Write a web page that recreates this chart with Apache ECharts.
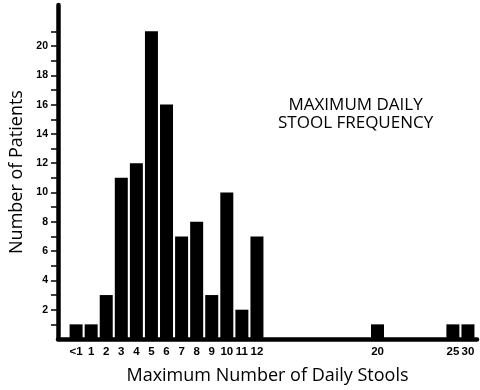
<!DOCTYPE html>
<html>
<head>
<meta charset="utf-8">
<script src="https://cdn.jsdelivr.net/npm/echarts@6/dist/echarts.min.js"></script>
<style>
html,body{margin:0;padding:0;background:#fff;}
#chart{width:480px;height:390px;}
</style>
</head>
<body>
<div id="chart"></div>
<script>
// Category slots along the x axis (blank slots are gaps on the axis)
const categories = ['<1','1','2','3','4','5','6','7','8','9','10','11','12',
  '','','','','','','','20','','','','','25','30'];
// Number of patients per category (null = no bar)
const patients = [1,1,3,11,12,21,16,7,8,3,10,2,7,
  null,null,null,null,null,null,null,1,null,null,null,null,1,1];
const yTicks = [1,2,3,4,5,6,7,8,9,10,11,12,13,14,15,16,17,18,19,20,21];
const yTickLabels = [2,4,6,8,10,12,14,16,18,20];
const xTitle = 'Maximum Number of Daily Stools';
const yTitle = 'Number of Patients';
const annotation = 'MAXIMUM DAILY\nSTOOL FREQUENCY';

const labelIdx = categories.map((c,i)=>c ? i : null).filter(i=>i!==null);
const seriesData = patients.map((v,i)=>[i,v]).filter(d=>d[1]!==null);

const chart = echarts.init(document.getElementById('chart'), null, {renderer:'canvas'});
chart.setOption({
  animation:false,
  backgroundColor:'#fff',
  grid:{left:58, right:3, top:5, bottom:51, containLabel:false, outerBoundsMode:'none'},
  xAxis:{
    type:'value', min:-1.2, max:26.6,
    axisLine:{show:true, onZero:false, lineStyle:{color:'#000', width:4.5}},
    axisTick:{show:false},
    splitLine:{show:false},
    axisLabel:{
      customValues:labelIdx,
      formatter:v=>categories[Math.round(v)] || '',
      color:'#000', fontFamily:'Liberation Sans', fontWeight:'bold', fontSize:11.5, margin:7
    },
    name:xTitle, nameLocation:'middle', nameGap:28,
    nameTextStyle:{color:'#000', fontFamily:'Open Sans', fontSize:18}
  },
  yAxis:{
    type:'value', min:0, max:22.8,
    axisLine:{show:true, onZero:false, lineStyle:{color:'#000', width:4.5}},
    axisTick:{show:true, customValues:yTicks, length:7, lineStyle:{color:'#000', width:1.5}},
    splitLine:{show:false},
    axisLabel:{
      customValues:yTickLabels,
      color:'#000', fontFamily:'Liberation Sans', fontWeight:'bold', fontSize:10.5, margin:10
    },
    name:yTitle, nameLocation:'middle', nameGap:31, nameRotate:90,
    nameTextStyle:{color:'#000', fontFamily:'Open Sans', fontSize:18}
  },
  graphic:[{
    type:'text', left:278, top:96,
    style:{text:annotation, fill:'#000', font:'17px "Open Sans"', textAlign:'center', lineHeight:18}
  }],
  series:[{
    type:'bar', data:seriesData, barWidth:13,
    itemStyle:{color:'#000'}
  }]
});
</script>
</body>
</html>
